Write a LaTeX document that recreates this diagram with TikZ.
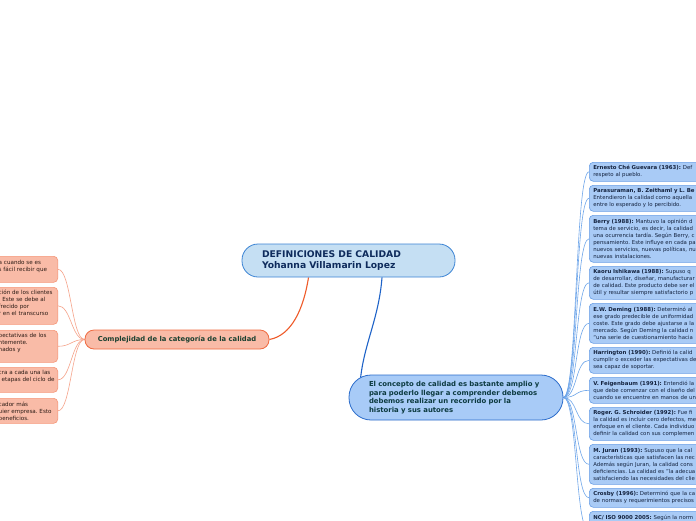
\documentclass[tikz,border=0pt]{standalone}
\usepackage{fontspec}
\setmainfont{DejaVu Sans}
\usetikzlibrary{calc,backgrounds}
\definecolor{rootf}{HTML}{C5DFF3}
\definecolor{rootb}{HTML}{3C84D4}
\definecolor{roott}{HTML}{0E2B5C}
\definecolor{rmf}{HTML}{A8CBF7}
\definecolor{rmb}{HTML}{2B6CCB}
\definecolor{rmt}{HTML}{0C3A40}
\definecolor{rcf}{HTML}{A9CBF6}
\definecolor{rcb}{HTML}{6A9FE6}
\definecolor{rct}{HTML}{14233F}
\definecolor{lmf}{HTML}{F9BBA7}
\definecolor{lmb}{HTML}{EF6A40}
\definecolor{lmt}{HTML}{1A4030}
\definecolor{lcf}{HTML}{F9BBA7}
\definecolor{lcb}{HTML}{F69779}
\definecolor{lct}{HTML}{2A1A14}
\definecolor{orangeline}{HTML}{EF5B2A}
\definecolor{blueline}{HTML}{1E63C8}
\definecolor{rthin}{HTML}{6FA6EA}
\definecolor{lthin}{HTML}{F6A38A}
\frenchspacing
\begin{document}
\begin{tikzpicture}[x=1pt,y=-1pt,
  rootbox/.style={draw=rootb, fill=rootf, line width=0.8pt, rounded corners=16pt,
    minimum width=213pt, minimum height=33pt, inner sep=0pt, text width=173pt,
    align=left, text=roott, font=\fontsize{9.2}{11}\selectfont\bfseries},
  rmainbox/.style={draw=rmb, fill=rmf, line width=0.8pt, rounded corners=22pt,
    minimum width=214pt, minimum height=45pt, inner sep=0pt, text width=174pt,
    align=left, text=rmt, font=\fontsize{6.9}{8.7}\selectfont\bfseries},
  lmainbox/.style={draw=lmb, fill=lmf, line width=0.8pt, rounded corners=9pt,
    minimum width=184pt, minimum height=19pt, inner sep=0pt,
    align=center, text=lmt, font=\fontsize{6.8}{8}\selectfont\bfseries},
  rchild/.style={draw=rcb, fill=rcf, line width=0.6pt, rounded corners=4pt,
    anchor=north west, text width=150pt, inner xsep=4pt, inner ysep=0pt,
    align=left, text=rct, font=\fontsize{5.4}{7}\selectfont},
  lchild/.style={draw=lcb, fill=lcf, line width=0.6pt, rounded corners=4pt,
    anchor=north east, text width=56pt, inner xsep=3pt, inner ysep=0pt,
    align=left, text=lct, font=\fontsize{5.6}{7}\selectfont},
  rlink/.style={draw=rthin, line width=0.6pt},
  llink/.style={draw=lthin, line width=0.6pt}
]
\useasboundingbox (0,0) rectangle (696,520);
\clip (0,0) rectangle (696,520);

% main nodes
\node[rootbox] (root) at (348.5,260.5) {DEFINICIONES DE CALIDAD\\Yohanna Villamarin Lopez};
\node[lmainbox] (lm) at (177,339.5) {Complejidad de la categoría de la calidad};
\node[rmainbox] (rm) at (456,397.5) {El concepto de calidad es bastante amplio y\\para poderlo llegar a comprender debemos\\debemos realizar un recorrido por la\\historia y sus autores};

% right children
\node[rchild, minimum height=19pt] (r1) at (589,162) {\textbf{Ernesto Ché Guevara (1963):} Def\\respeto al pueblo.};
\node[rchild, minimum height=26pt] (r2) at (589,185) {\textbf{Parasuraman, B. Zeithaml y L. Be}\\Entendieron la calidad como aquella\\entre lo esperado y lo percibido.};
\node[rchild, minimum height=47pt] (r3) at (589,215) {\textbf{Berry (1988):} Mantuvo la opinión d\\tema de servicio, es decir, la calidad\\una ocurrencia tardía. Según Berry, c\\pensamiento. Este influye en cada pa\\nuevos servicios, nuevas políticas, nu\\nuevas instalaciones.};
\node[rchild, minimum height=33pt] (r4) at (589,266) {\textbf{Kaoru Ishikawa (1988):} Supuso q\\de desarrollar, diseñar, manufacturar\\de calidad. Este producto debe ser el\\útil y resultar siempre satisfactorio p};
\node[rchild, minimum height=40pt] (r5) at (589,303) {\textbf{E.W. Deming (1988):} Determinó al\\ese grado predecible de uniformidad\\coste. Este grado debe ajustarse a la\\mercado. Según Deming la calidad n\\“una serie de cuestionamiento hacia};
\node[rchild, minimum height=26pt] (r6) at (589,347) {\textbf{Harrington (1990):} Definió la calid\\cumplir o exceder las expectativas de\\sea capaz de soportar.};
\node[rchild, minimum height=26pt] (r7) at (589,377) {\textbf{V. Feigenbaum (1991):} Entendió la\\que debe comenzar con el diseño del\\cuando se encuentre en manos de un};
\node[rchild, minimum height=33pt] (r8) at (589,407) {\textbf{Roger. G. Schroider (1992):} Fue fi\\la calidad es incluir cero defectos, me\\enfoque en el cliente. Cada individuo\\definir la calidad con sus complemen};
\node[rchild, minimum height=40pt] (r9) at (589,444) {\textbf{M. Juran (1993):} Supuso que la cal\\características que satisfacen las nec\\Además según Juran, la calidad cons\\deficiencias. La calidad es "la adecua\\satisfaciendo las necesidades del clie};
\node[rchild, minimum height=19pt] (r10) at (589,488) {\textbf{Crosby (1996):} Determinó que la ca\\de normas y requerimientos precisos};
\node[rchild, minimum height=40pt] (r11) at (589,511) {\textbf{NC/ ISO 9000 2005:} Según la norm\\~\\~\\~\\~};

% left children
\node[lchild, minimum height=26pt] (l1) at (58,256) {\mbox{a cuando se es}\\\mbox{s fácil recibir que}\\~};
\node[lchild, minimum height=37pt] (l2) at (58,287) {\mbox{ción de los clientes}\\\mbox{. Este se debe al}\\\mbox{frecido por}\\\mbox{r en el transcurso}\\~};
\node[lchild, minimum height=32pt] (l3) at (58,330) {\mbox{pectativas de los}\\\mbox{ntemente.}\\\mbox{nados y}\\~};
\node[lchild, minimum height=25pt] (l4) at (58,367) {\mbox{cra a cada una las}\\\mbox{\hspace{3pt}etapas del ciclo de}\\~};
\node[lchild, minimum height=25pt] (l5) at (58,398) {\mbox{cador más}\\\mbox{uier empresa. Esto}\\\mbox{beneficios.}};

\begin{scope}[on background layer]
  \fill[white] (0,0) rectangle (696,520);
  \draw[orangeline, line width=1.1pt] ($(root.south)+(-40,0)$) .. controls +(-5,32) and +(22,-4) .. (lm.east);
  \draw[blueline, line width=1.1pt] ($(root.south)+(33.5,0)$) .. controls +(-3,40) and +(4,-35) .. ($(rm.north west)+(12,3)$);
  \foreach \n in {1,...,11} {
    \draw[rlink] (rm.east) .. controls +(14,0) and +(-14,0) .. (r\n.west);
  }
  \foreach \n in {1,...,5} {
    \draw[llink] (lm.west) .. controls +(-13,0) and +(13,0) .. (l\n.east);
  }
\end{scope}
\end{tikzpicture}
\end{document}
